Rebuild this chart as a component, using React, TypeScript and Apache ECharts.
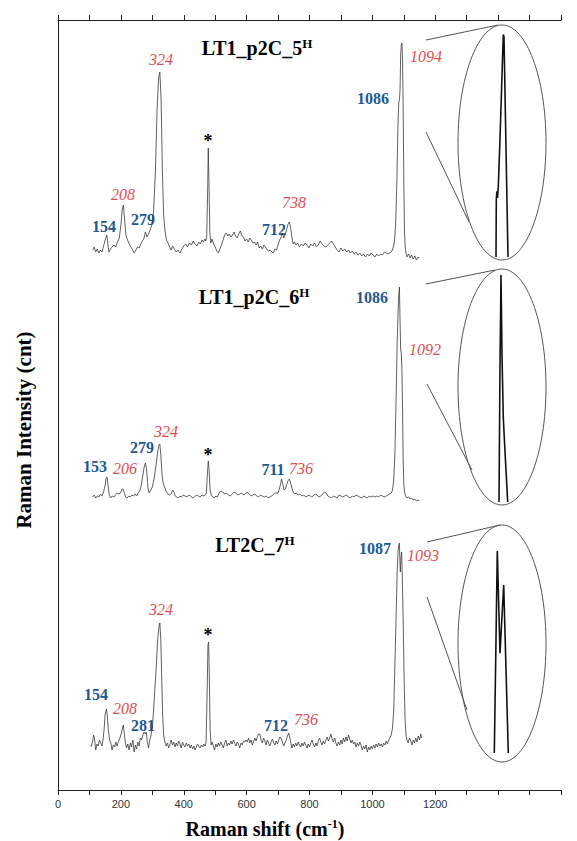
import React, { useEffect, useRef } from "react";
import * as echarts from "echarts";

// Stacked display intensities (arbitrary units) vs Raman shift (cm-1)
const spec1: [number, number][] = [
  [110,540],[115,543],[120,538],[125,541],[130,537],[135,540],[140,538],[145,544],[150,550],[155,555],[158,548],[162,538],
  [167,541],[172,543],[178,545],[183,543],[188,547],[195,552],[200,565],[204,580],[208,585],[212,570],[216,555],[220,551],
  [225,547],[230,544],[236,541],[242,537],[248,540],[253,543],[258,542],[263,546],[268,549],[273,551],[278,558],[283,553],
  [288,556],[293,560],[298,565],[304,578],[310,620],[315,680],[320,712],[324,718],[328,690],[332,620],[336,575],[340,560],
  [345,550],[350,547],[355,543],[360,540],[365,544],[370,541],[376,538],[382,540],[388,537],[394,541],[400,544],[406,546],
  [412,543],[418,547],[424,545],[430,549],[436,546],[442,544],[448,548],[453,546],[458,550],[463,548],[467,551],[470,549],
  [473,553],[476,600],[478,642],[480,610],[483,558],[486,547],[490,551],[495,546],[500,543],[505,539],[510,537],[515,541],
  [520,545],[525,550],[530,555],[535,557],[540,554],[545,556],[550,553],[555,555],[560,558],[565,554],[570,552],[575,556],
  [580,559],[585,554],[590,553],[595,549],[600,551],[605,548],[610,552],[615,550],[620,547],[625,548],[630,545],[635,548],
  [640,542],[645,544],[650,541],[655,545],[660,543],[665,540],[670,539],[675,540],[680,538],[685,537],[690,541],[695,540],
  [700,545],[705,550],[710,553],[714,557],[718,552],[722,555],[727,560],[732,566],[736,568],[740,562],[744,553],[748,546],
  [752,548],[757,545],[762,547],[768,543],[774,546],[780,544],[786,547],[792,545],[798,542],[804,546],[810,544],[816,547],
  [822,543],[828,545],[834,549],[840,546],[846,544],[852,543],[858,545],[864,547],[870,549],[876,546],[882,543],[888,540],
  [894,538],[900,542],[906,539],[912,541],[918,538],[924,540],[930,537],[936,539],[942,536],[948,538],[954,535],[960,537],
  [966,534],[972,536],[978,533],[984,536],[990,534],[996,537],[1002,535],[1008,533],[1014,536],[1020,534],[1026,536],
  [1032,535],[1038,538],[1044,537],[1050,536],[1055,537],[1060,538],[1065,541],[1070,548],[1074,565],[1078,610],[1081,660],
  [1084,688],[1086,690],[1088,700],[1090,735],[1092,745],[1094,747],[1096,730],[1098,680],[1100,610],[1102,560],[1104,545],
  [1107,537],[1110,533],[1115,536],[1120,532],[1125,535],[1130,531],[1135,534],[1140,530],[1145,533],[1150,532]
];

const spec2: [number, number][] = [
  [110,293],[115,295],[120,292],[125,294],[130,293],[135,296],[140,294],[145,298],[150,305],[153,312],[156,313],[159,305],
  [163,295],[167,292],[172,294],[178,293],[183,295],[188,297],[195,296],[200,298],[204,301],[207,301],[211,297],[215,293],
  [220,292],[225,294],[230,293],[235,295],[240,294],[245,296],[250,294],[255,297],[260,299],[265,305],[270,315],[274,323],
  [278,327],[282,320],[286,302],[290,297],[294,299],[300,303],[306,312],[312,325],[317,338],[321,345],[324,346],[327,335],
  [331,315],[335,306],[340,302],[345,298],[350,296],[355,295],[360,296],[365,300],[369,298],[373,294],[378,293],[383,292],
  [388,294],[393,293],[398,295],[404,294],[410,293],[416,295],[422,294],[428,292],[434,293],[440,295],[446,294],[452,293],
  [458,295],[464,294],[469,295],[472,297],[475,315],[478,329],[481,318],[484,299],[488,295],[492,293],[497,292],[502,294],
  [507,293],[512,297],[518,299],[524,298],[530,296],[536,297],[542,295],[548,294],[554,296],[560,298],[566,297],[572,295],
  [578,296],[584,297],[590,295],[596,296],[602,298],[608,296],[614,294],[620,295],[626,296],[632,294],[638,293],[644,295],
  [650,294],[656,293],[662,294],[668,292],[674,293],[680,294],[686,296],[692,297],[700,297],[704,301],[708,306],[711,311],
  [715,306],[719,300],[723,301],[727,305],[731,309],[736,311],[740,307],[744,302],[748,298],[753,296],[758,297],[764,295],
  [770,296],[776,294],[782,295],[788,293],[794,294],[800,295],[806,293],[812,294],[818,296],[824,295],[830,293],[836,294],
  [842,296],[848,298],[853,297],[858,294],[864,293],[870,292],[876,294],[882,293],[888,292],[894,295],[900,294],[906,293],
  [912,294],[918,295],[924,293],[930,292],[936,294],[942,293],[948,295],[954,294],[960,293],[966,292],[972,294],[978,293],
  [984,292],[990,294],[996,293],[1002,294],[1008,293],[1014,294],[1020,293],[1026,295],[1032,294],[1038,293],[1044,294],
  [1050,295],[1055,296],[1060,297],[1064,300],[1068,310],[1072,340],[1076,400],[1079,450],[1082,480],[1084,495],[1086,503],
  [1088,470],[1090,440],[1092,437],[1094,420],[1096,380],[1098,330],[1100,305],[1103,297],[1106,294],[1110,292],[1115,293],
  [1120,291],[1125,292],[1130,290],[1135,291],[1140,289],[1145,290],[1150,289]
];

const spec3: [number, number][] = [
  [105,43],[110,48],[113,55],[116,52],[120,40],[124,46],[128,44],[132,50],[136,47],[140,44],[144,52],[147,62],[150,76],[154,81],
  [157,74],[160,60],[164,50],[168,47],[172,40],[176,45],[180,43],[184,48],[188,44],[192,48],[197,52],[201,56],[205,62],[208,65],
  [211,56],[214,48],[218,42],[222,46],[226,40],[230,47],[234,43],[238,50],[242,38],[246,45],[250,41],[254,48],[258,44],
  [262,52],[266,50],[270,55],[274,58],[278,56],[281,58],[284,48],[288,42],[292,50],[296,55],[300,62],[304,80],[308,100],
  [312,120],[317,150],[321,163],[324,167],[327,150],[330,110],[333,75],[336,55],[340,48],[344,44],[348,47],[352,42],
  [356,46],[360,50],[364,45],[368,48],[372,43],[376,47],[380,44],[384,49],[388,46],[392,42],[396,48],[400,45],[404,43],
  [408,47],[412,44],[416,46],[420,42],[424,45],[428,41],[432,44],[436,40],[440,43],[444,46],[448,44],[452,42],[456,45],
  [460,43],[464,46],[468,44],[471,48],[474,90],[477,145],[479,148],[481,120],[484,60],[487,45],[490,48],[494,44],[498,40],
  [502,46],[506,43],[510,47],[514,44],[518,48],[522,45],[526,42],[530,47],[534,50],[538,44],[542,47],[546,45],[550,49],
  [554,46],[558,50],[562,47],[566,44],[570,48],[574,46],[578,42],[582,47],[586,45],[590,49],[594,48],[598,50],[602,48],
  [606,52],[610,47],[614,50],[618,45],[622,48],[626,52],[630,49],[634,53],[638,56],[642,56],[646,50],[650,47],[654,52],
  [658,49],[662,45],[666,50],[670,47],[674,44],[678,48],[682,51],[686,47],[690,45],[694,49],[698,46],[702,50],[706,53],
  [710,52],[714,48],[718,44],[722,47],[726,50],[730,54],[734,57],[736,57],[740,48],[744,42],[748,46],[752,43],[756,47],
  [760,44],[764,48],[768,45],[772,43],[776,47],[780,44],[784,48],[788,45],[792,42],[796,46],[800,43],[804,47],[808,50],
  [812,46],[816,43],[820,47],[824,44],[828,49],[832,52],[836,48],[840,45],[844,49],[848,46],[852,50],[856,53],[860,49],
  [864,52],[868,56],[872,51],[876,48],[880,52],[884,47],[888,44],[892,48],[896,45],[900,50],[904,46],[908,52],[912,48],
  [916,53],[920,49],[924,55],[928,51],[932,47],[936,50],[940,46],[944,48],[948,43],[952,47],[956,44],[960,48],[964,45],
  [968,40],[972,44],[976,41],[980,45],[984,38],[988,43],[992,40],[996,44],[1000,41],[1004,45],[1008,42],[1012,46],
  [1016,43],[1020,47],[1024,44],[1028,46],[1032,43],[1036,47],[1040,45],[1044,49],[1048,46],[1052,50],[1056,52],[1060,55],
  [1064,62],[1068,80],[1072,130],[1076,180],[1079,220],[1082,240],[1084,245],[1086,247],[1088,225],[1089,218],[1091,232],
  [1093,238],[1095,215],[1098,170],[1101,110],[1104,70],[1107,55],[1110,50],[1114,47],[1118,52],[1122,49],[1126,45],
  [1130,50],[1134,47],[1138,52],[1142,48],[1146,54],[1150,50],[1154,56],[1157,52]
];

// Zoomed views of the ~1090 cm-1 band (relative intensity)
const inset1: [number, number][] = [
  [1086,0],[1086.3,25],[1086.8,29],[1087.5,26],[1088.3,31],[1090,52],[1093.3,98],[1094,97],[1095.5,60],[1098,0]
];
const inset2: [number, number][] = [
  [1089,0],[1090,60],[1091,100],[1092,65],[1093.3,37],[1095.5,18],[1097.7,0]
];
const inset3: [number, number][] = [
  [1084.3,0],[1086,50],[1087.3,89],[1090,44],[1093.7,74],[1096,37],[1098.3,0]
];

const titles = ["LT1_p2C_5", "LT1_p2C_6", "LT2C_7"];
const blueLabels = [
  ["154", "279", "712", "1086"],
  ["153", "279", "711", "1086"],
  ["154", "281", "712", "1087"],
];
const redLabels = [
  ["208", "324", "738", "1094"],
  ["206", "324", "736", "1092"],
  ["208", "324", "736", "1093"],
];
const xTickLabelMax = 1200;

const BLUE = "#1d5a93";
const RED = "#de4f4f";
const SERIF = "'Liberation Serif', 'Times New Roman', serif";
const SANS = "'Liberation Sans', Arial, sans-serif";

// annotation positions (pixels)
const titlePos = [[257, 48], [254, 297], [255, 545]];
const bluePos = [
  [[104, 226], [143, 219], [274, 229], [373, 98]],
  [[95, 466], [142, 447], [273, 469], [372, 297]],
  [[96, 694], [143, 725], [276, 725], [375, 548]],
];
const redPos = [
  [[123, 194], [161, 59], [294, 202], [426, 56]],
  [[125, 468], [166, 431], [301, 468], [425, 349]],
  [[125, 708], [161, 609], [306, 719], [423, 555]],
];
const starPos = [[208, 141], [208, 455], [208, 635]];
const ellipses = [[502, 142.5, 44, 117.5], [502, 387, 44, 118], [502, 643.5, 44, 118.5]];
const connectors = [
  [[426, 40, 498, 25], [426, 132, 469, 222]],
  [[426, 284, 495, 270], [427, 384, 472, 470]],
  [[427, 542, 500, 525], [427, 597, 467, 710]],
];
const insetTops = [30, 275, 526];

export default function App() {
  const ref = useRef<HTMLDivElement>(null);
  useEffect(() => {
    if (!ref.current) return;
    const chart = echarts.init(ref.current, undefined, { renderer: "svg" });
    const graphic: any[] = [];
    titles.forEach((t, i) => {
      graphic.push({
        type: "text",
        x: titlePos[i][0],
        y: titlePos[i][1],
        style: {
          text: `{a|${t}}{b|H}`,
          align: "center",
          verticalAlign: "middle",
          rich: {
            a: { fontFamily: SERIF, fontWeight: "bold", fontSize: 20, lineHeight: 22, fill: "#000" },
            b: { fontFamily: SERIF, fontWeight: "bold", fontSize: 13, lineHeight: 14, verticalAlign: "top", fill: "#000" },
          },
        },
      });
      blueLabels[i].forEach((s, j) => {
        graphic.push({
          type: "text",
          x: bluePos[i][j][0],
          y: bluePos[i][j][1],
          style: { text: s, align: "center", verticalAlign: "middle", fill: BLUE, font: `bold 16px ${SERIF}` },
        });
      });
      redLabels[i].forEach((s, j) => {
        graphic.push({
          type: "text",
          x: redPos[i][j][0],
          y: redPos[i][j][1],
          style: { text: s, align: "center", verticalAlign: "middle", fill: RED, font: `italic 16px ${SERIF}` },
        });
      });
      graphic.push({
        type: "text",
        x: starPos[i][0],
        y: starPos[i][1],
        style: { text: "*", align: "center", verticalAlign: "middle", fill: "#000", font: `bold 18px ${SERIF}` },
      });
      const [cx, cy, rx, ry] = ellipses[i];
      graphic.push({
        type: "ellipse",
        shape: { cx, cy, rx, ry },
        style: { fill: "none", stroke: "#555", lineWidth: 1 },
      });
      connectors[i].forEach((c) => {
        graphic.push({
          type: "line",
          shape: { x1: c[0], y1: c[1], x2: c[2], y2: c[3] },
          style: { stroke: "#555", lineWidth: 1 },
        });
      });
    });
    graphic.push({
      type: "text",
      x: 24,
      y: 430,
      rotation: Math.PI / 2,
      style: { text: "Raman Intensity (cnt)", align: "center", verticalAlign: "middle", fill: "#000", font: `bold 21px ${SERIF}` },
    });
    graphic.push({
      type: "text",
      x: 265,
      y: 829,
      style: {
        text: "{a|Raman shift (cm}{b|-1}{a|)}",
        align: "center",
        verticalAlign: "middle",
        rich: {
          a: { fontFamily: SERIF, fontWeight: "bold", fontSize: 20, lineHeight: 22, fill: "#000" },
          b: { fontFamily: SERIF, fontWeight: "bold", fontSize: 12, lineHeight: 13, verticalAlign: "top", fill: "#000" },
        },
      },
    });

    const lineStyleMain = { color: "#3a3a3a", width: 0.8 };
    const lineStyleInset = { color: "#111", width: 1.6 };
    const axisLineStyle = { color: "#222", width: 1 };

    chart.setOption({
      animation: false,
      backgroundColor: "#fff",
      grid: [
        { left: 58, right: 16, top: 20, bottom: 51 },
        ...insetTops.map((t) => ({ left: 480, width: 40, top: t, height: 227 })),
      ],
      xAxis: [
        {
          gridIndex: 0, type: "value", min: 0, max: 1600, interval: 100, position: "bottom",
          axisLine: { lineStyle: axisLineStyle },
          axisTick: { length: 5, lineStyle: axisLineStyle },
          axisLabel: {
            formatter: (v: number) => (v % 200 === 0 && v <= xTickLabelMax ? String(v) : ""),
            fontFamily: SANS, fontSize: 11, color: "#333", margin: 8,
          },
          splitLine: { show: false },
        },
        {
          gridIndex: 0, type: "value", min: 0, max: 1600, interval: 100, position: "top",
          axisLine: { lineStyle: axisLineStyle },
          axisTick: { length: 5, lineStyle: axisLineStyle },
          axisLabel: { show: false },
          splitLine: { show: false },
        },
        ...insetTops.map((_, i) => ({ gridIndex: i + 1, type: "value", min: 1070, max: 1110, show: false })),
      ],
      yAxis: [
        {
          gridIndex: 0, type: "value", min: 0, max: 770,
          axisLine: { show: true, lineStyle: axisLineStyle },
          axisTick: { show: false }, axisLabel: { show: false }, splitLine: { show: false },
        },
        ...insetTops.map((_, i) => ({ gridIndex: i + 1, type: "value", min: 0, max: 100, show: false })),
      ],
      series: [
        ...[spec1, spec2, spec3].map((d) => ({
          type: "line", xAxisIndex: 0, yAxisIndex: 0, data: d, showSymbol: false, symbol: "none",
          lineStyle: lineStyleMain, silent: true,
        })),
        ...[inset1, inset2, inset3].map((d, i) => ({
          type: "line", xAxisIndex: i + 2, yAxisIndex: i + 1, data: d, showSymbol: false, symbol: "none",
          lineStyle: lineStyleInset, silent: true,
        })),
      ],
      graphic,
    });
    return () => chart.dispose();
  }, []);
  return (
    <div
      ref={ref}
      style={{ position: "fixed", left: 0, top: 0, width: 577, height: 841, background: "#fff" }}
    />
  );
}
